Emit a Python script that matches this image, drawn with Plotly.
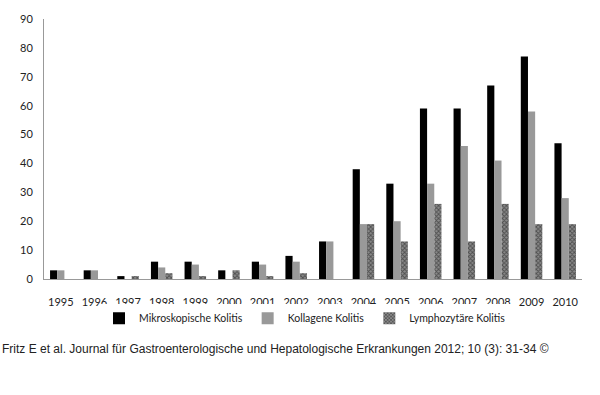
import plotly.graph_objects as go

years = [str(y) for y in range(1995, 2011)]
mikro = [3, 3, 1, 6, 6, 3, 6, 8, 13, 38, 33, 59, 59, 67, 77, 47]
kolla = [3, 3, 0, 4, 5, 0, 5, 6, 13, 19, 20, 33, 46, 41, 58, 28]
lymph = [0, 0, 1, 2, 1, 3, 1, 2, 0, 19, 13, 26, 13, 26, 19, 19]
y_ticks = list(range(0, 91, 10))

fig = go.Figure()
fig.add_bar(x=years, y=mikro, name="Mikroskopische Kolitis",
            marker=dict(color="#000000", line=dict(width=0)))
fig.add_bar(x=years, y=kolla, name="Kollagene Kolitis",
            marker=dict(color="#999999", line=dict(width=0)))
fig.add_bar(x=years, y=lymph, name="Lymphozytäre Kolitis",
            marker=dict(color="#555555", line=dict(width=0),
                        pattern=dict(shape="x", fgcolor="#111111", bgcolor="#8a8a8a",
                                     size=3, solidity=0.5)))

fig.update_layout(
    width=600, height=395,
    paper_bgcolor="white", plot_bgcolor="white",
    margin=dict(l=44, r=18, t=14, b=116),
    barmode="group", bargap=0.36, bargroupgap=0,
    font=dict(family="Lato, Open Sans, sans-serif", size=11, color="#222222"),
    showlegend=True,
    legend=dict(orientation="h", x=305/538 - 44/538, xanchor="center", y=-0.095, yanchor="top",
                font=dict(size=10.5), traceorder="normal", itemwidth=30),
    xaxis=dict(showline=True, linecolor="#999999", linewidth=1, ticks="",
               showgrid=False, ticklabelstandoff=13),
    yaxis=dict(range=[0, 90], tickvals=y_ticks, showline=True, linecolor="#999999",
               linewidth=1, showgrid=False, ticks="", zeroline=False,
               ticklabelstandoff=8),
)

fig.add_annotation(text="Fritz E et al. Journal für Gastroenterologische und Hepatologische Erkrankungen 2012; 10 (3): 31-34 ©",
                   xref="paper", yref="paper", x=-44/538, xanchor="left",
                   y=-71/265, yanchor="middle", showarrow=False,
                   font=dict(family="Liberation Sans, Arial, sans-serif", size=12, color="#222222"))

# remove the default page margin so the figure sits at the window's top-left corner
fig.write_html("out.html", config={"displayModeBar": False},
               post_script="document.body.style.margin='0';")
